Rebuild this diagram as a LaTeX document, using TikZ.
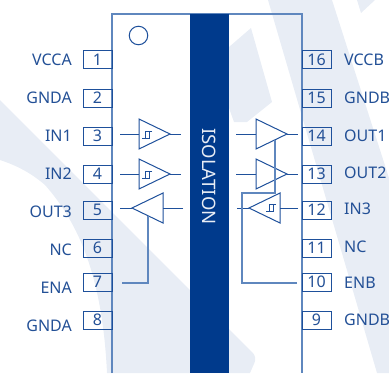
\documentclass[tikz,border=0pt]{standalone}
\usepackage{fontspec}
\setmainfont{Noto Sans}
\usetikzlibrary{positioning,shapes.geometric}
\definecolor{markblue}{RGB}{232,237,245}
\definecolor{isoblue}{RGB}{0,58,140}
\definecolor{lineblue}{RGB}{30,80,155}
\definecolor{wallblue}{RGB}{95,135,190}
\definecolor{textblue}{RGB}{35,80,150}

\begin{document}
\begin{tikzpicture}[x=1pt,y=-1pt]
    \tikzset{pinbox/.style={draw=lineblue,line width=1pt,minimum width=29pt,minimum height=18pt,inner sep=0pt,text=textblue,font=\fontsize{16}{18}\selectfont}}
    \tikzset{pinlabel/.style={text=textblue,inner sep=0pt,font=\fontsize{16}{18}\selectfont}}
    \tikzset{buf/.style={draw=lineblue,line width=1pt,isosceles triangle,isosceles triangle stretches,minimum width=30pt,minimum height=31pt,inner sep=0pt,outer sep=0pt}}
    \tikzset{wire/.style={draw=lineblue,line width=1pt}}
    \tikzset{enwire/.style={draw=wallblue,line width=1.2pt}}
    \tikzset{hyst/.pic={\draw[lineblue,line width=0.8pt] (-5,3.5) -- (2,3.5) -- (2,-3.5) (5,-3.5) -- (-2,-3.5) -- (-2,3.5);}}
    \useasboundingbox (0,0) rectangle (389,373);

    % Watermark
    \fill[markblue] (0,100) -- (85,185) [rounded corners=6pt] -- (257,357) [sharp corners] -- (250,373) -- (107,373) .. controls (103,290) and (85,230) .. (45,185) .. controls (30,172) and (15,165) .. (0,160) -- cycle;
    \fill[markblue] (268,0) -- (332,0) -- (389,178) -- (389,373) -- (377,373) -- cycle;
    \fill[markblue] (357,0) -- (375,0) -- (361,13) -- cycle;
    \fill[markblue] (229,47) -- (251,28) -- (272,102) -- (247,122) -- (234,122) -- (229,108) -- cycle;

    % Chip
    \draw[draw=wallblue,line width=1.4pt] (112,373) -- (112,14) -- (302,14) -- (302,373);
    \node[fill=isoblue,minimum width=39pt,minimum height=359pt,inner sep=0pt] (isoband) at (209.5,193.5) {};
    \node[rotate=-90,text=markblue,inner sep=0pt,font=\fontsize{18.5}{20}\selectfont] (isotext) at (209,176.5) {ISOLATION};
    \node[draw=lineblue,circle,line width=1pt,minimum size=18.5pt,inner sep=0pt] (dot) at (138.5,35.5) {};

    % Left pins
    \node[pinbox] (pina) at (97.5,59.5) {1};
    \node[pinbox] (pinb) at (97.5,98) {2};
    \node[pinbox] (pinc) at (97.5,136) {3};
    \node[pinbox] (pind) at (97.5,174) {4};
    \node[pinbox] (pine) at (97.5,210) {5};
    \node[pinbox] (pinf) at (97.5,248) {6};
    \node[pinbox] (ping) at (97.5,282) {7};
    \node[pinbox] (pinh) at (97.5,320) {8};
    \node[pinlabel,anchor=east] (vcca) at (72,59.5) {VCCA};
    \node[pinlabel,anchor=east] (gnda) at (72,97.5) {GNDA};
    \node[pinlabel,anchor=east] (ina) at (72,136) {IN1};
    \node[pinlabel,anchor=east] (inb) at (72,174) {IN2};
    \node[pinlabel,anchor=east] (outc) at (72,212) {OUT3};
    \node[pinlabel,anchor=east] (ncl) at (72,250) {NC};
    \node[pinlabel,anchor=east] (ena) at (72,288) {ENA};
    \node[pinlabel,anchor=east] (gndl) at (72,326) {GNDA};

    % Right pins
    \node[pinbox] (pinp) at (316.5,59.5) {16};
    \node[pinbox] (pino) at (316.5,98) {15};
    \node[pinbox] (pinn) at (316.5,136) {14};
    \node[pinbox] (pinm) at (316.5,174) {13};
    \node[pinbox] (pinl) at (316.5,210) {12};
    \node[pinbox] (pink) at (316.5,248) {11};
    \node[pinbox] (pinj) at (316.5,282) {10};
    \node[pinbox] (pini) at (316.5,320) {9};
    \node[pinlabel,anchor=west] (vccb) at (344,60) {VCCB};
    \node[pinlabel,anchor=west] (gndb) at (344,98) {GNDB};
    \node[pinlabel,anchor=west] (outa) at (344,136) {OUT1};
    \node[pinlabel,anchor=west] (outb) at (344,173) {OUT2};
    \node[pinlabel,anchor=west] (inc) at (344,209) {IN3};
    \node[pinlabel,anchor=west] (ncr) at (344,247) {NC};
    \node[pinlabel,anchor=west] (enb) at (344,283) {ENB};
    \node[pinlabel,anchor=west] (gndr) at (344,320) {GNDB};

    % Buffers
    \node[buf,anchor=apex] (bufa) at (170,134) {};
    \node[buf,anchor=apex] (bufb) at (170,174) {};
    \node[buf,anchor=apex,shape border rotate=180] (bufc) at (132,208) {};
    \node[buf,anchor=apex] (bufd) at (287,134) {};
    \node[buf,anchor=apex] (bufe) at (287,174) {};
    \node[buf,anchor=apex,shape border rotate=180] (buff) at (249,208) {};
    \pic at (147,134.5) {hyst};
    \pic at (147,174.5) {hyst};
    \pic at (271,207.5) {hyst};

    % Stubs
    \coordinate (ainl) at (120,134);
    \coordinate (aoutl) at (181,134);
    \coordinate (binl) at (120,174);
    \coordinate (boutl) at (181,174);
    \coordinate (cinl) at (183,208);
    \coordinate (coutl) at (120,208);
    \coordinate (ainr) at (236,134);
    \coordinate (aoutr) at (298,134);
    \coordinate (binr) at (236,174);
    \coordinate (boutr) at (298,174);
    \coordinate (cinr) at (298,208);
    \coordinate (coutr) at (237,208);
    \draw[wire] (ainl) -- (bufa.lower side);
    \draw[wire] (bufa.apex) -- (aoutl);
    \draw[wire] (binl) -- (bufb.lower side);
    \draw[wire] (bufb.apex) -- (boutl);
    \draw[wire] (cinl) -- (bufc.lower side);
    \draw[wire] (bufc.apex) -- (coutl);
    \draw[wire] (ainr) -- (bufd.lower side);
    \draw[wire] (bufd.apex) -- (aoutr);
    \draw[wire] (binr) -- (bufe.lower side);
    \draw[wire] (bufe.apex) -- (boutr);
    \draw[wire] (cinr) -- (buff.lower side);
    \draw[wire] (buff.apex) -- (coutr);

    % Enable
    \coordinate (enal) at (122,283);
    \coordinate (enat) at (148,216);
    \coordinate (enbr) at (297,283);
    \coordinate (enbt) at (275,140);
    \coordinate (enbc) at (275,193);
    \draw[enwire] (enal) -| (enat);
    \draw[enwire] (enbr) -| (242,193) -- (enbc) -- (enbt);
\end{tikzpicture}
\end{document}
